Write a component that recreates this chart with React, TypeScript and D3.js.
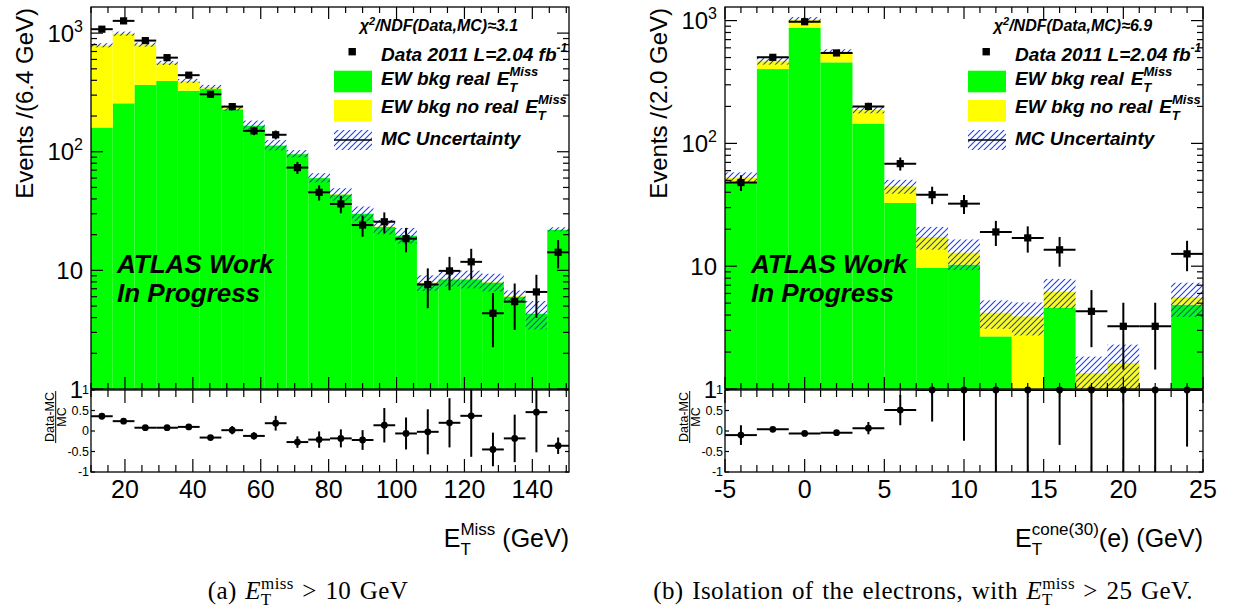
import React from 'react';
import * as d3 from 'd3';

const SANS = "'Liberation Sans', Arial, Helvetica, sans-serif";
const SERIF = "'Liberation Serif', 'Times New Roman', serif";

// ---------- (a) E_T^miss ----------
const metEdges = [10, 16.4, 22.8, 29.2, 35.6, 42, 48.4, 54.8, 61.2, 67.6, 74, 80.4, 86.8, 93.2, 99.6, 106, 112.4, 118.8, 125.2, 131.6, 138, 144.4, 150.8];
const metGreen = [160, 256, 366, 395, 327, 340, 228, 166, 113, 95.5, 60, 43.6, 30, 23.2, 19.6, 7.8, 8.4, 8.4, 7.9, 6.0, 4.3, 22];
const metYellow = [630, 734, 434, 166, 68, 12, 5, 2, 1, 1, 0.5, 0.4, 0.3, 0.2, 0.2, 0.1, 0.1, 0.1, 0.1, 0.1, 0.05, 0.2];
const metUnc = [0.04, 0.04, 0.04, 0.04, 0.04, 0.04, 0.05, 0.09, 0.1, 0.07, 0.09, 0.12, 0.14, 0.14, 0.15, 0.15, 0.14, 0.17, 0.17, 0.11, 0.27, 0.04];
const metData = [1079, 1268, 865, 621, 442, 305, 240, 150, 139, 73.5, 45.5, 36.3, 24.1, 25.7, 18.5, 7.6, 9.9, 11.8, 4.35, 5.45, 6.58, 14.2];
const metDataErr = [33, 36, 29, 25, 21, 17, 15, 12, 12, 8.6, 6.7, 6.0, 4.9, 5.1, 4.3, 2.8, 3.1, 3.4, 2.1, 2.3, 2.6, 3.8];
const metRatio = [0.36, 0.24, 0.08, 0.08, 0.1, -0.16, 0.02, -0.12, 0.19, -0.27, -0.21, -0.18, -0.22, 0.14, -0.06, -0.02, 0.2, 0.37, -0.45, -0.18, 0.46, -0.36];
const metRatioErr = [0.04, 0.04, 0.04, 0.04, 0.05, 0.06, 0.1, 0.09, 0.18, 0.14, 0.2, 0.22, 0.24, 0.42, 0.39, 0.55, 0.6, 1.0, 0.41, 0.58, 0.98, 0.2];
const metXTicks = [20, 40, 60, 80, 100, 120, 140];

// ---------- (b) electron isolation ----------
const isoEdges = [-5, -3, -1, 1, 3, 5, 7, 9, 11, 13, 15, 17, 19, 21, 23, 25];
const isoGreen = [48, 403, 871, 457, 145, 32.7, 9.67, 10.3, 2.68, 0, 4.57, 0, 0, 0, 4.86];
const isoYellow = [4.8, 68, 146, 104, 42, 12, 7.6, 2.6, 1.5, 3.9, 1.63, 1.35, 1.63, 0, 0.74];
const isoUnc = [0.1, 0.07, 0.05, 0.04, 0.06, 0.13, 0.21, 0.28, 0.26, 0.3, 0.27, 0.36, 0.41, 0, 0.31];
const isoData = [48, 502, 979, 545, 200, 68.4, 38.2, 32.3, 19, 17, 13.6, 4.29, 3.24, 3.24, 12.6];
const isoDataErr = [7, 22, 31, 23, 14, 8.3, 6.2, 5.7, 4.4, 4.1, 3.7, 2.1, 1.8, 1.8, 3.5];
const isoRatio = [-0.1, 0.04, -0.06, -0.04, 0.07, 0.51, 1, 1, 1, 1, 1, 1, 1, 1, 1];
const isoRatioErr = [0.24, 0.05, 0.04, 0.05, 0.15, 0.37, 0.77, 1.24, 2.5, 2.5, 1.34, 2.5, 2.5, 2.5, 1.38];
const isoXTicks = [-5, 0, 5, 10, 15, 20, 25];

const yDecades = [1, 10, 100, 1000];

const MAIN_TOP = 7;
const MAIN_BOT = 389;
const RAT_TOP = 390;
const RAT_BOT = 472;
const ratioTicks = [-1, -0.5, 0, 0.5, 1];

type PanelProps = {
  id: string;
  x0: number;
  x1: number;
  xDomain: [number, number];
  xMajor: number[];
  minorStep: number;
  yMax: number;
  edges: number[];
  green: number[];
  yellow: number[];
  unc: number[];
  data: number[];
  dataErr: number[];
  ratio: number[];
  ratioErr: number[];
  yTitle: string;
  chi2: string;
  xTitleSup: string;
  xTitleTail: string;
  supW: number;
};

function Panel(p: PanelProps) {
  const x = d3.scaleLinear().domain(p.xDomain).range([p.x0, p.x1]);
  const y = d3.scaleLog().domain([1, p.yMax]).range([MAIN_BOT, MAIN_TOP]);
  const yv = (v: number) => (v <= 1 ? MAIN_BOT : Math.max(MAIN_TOP - 2, y(v)));
  const yr = d3.scaleLinear().domain([-1, 1]).range([RAT_BOT, RAT_TOP]);

  const bins = p.green.map((g, i) => ({
    lo: p.edges[i],
    hi: p.edges[i + 1],
    g,
    tot: g + p.yellow[i],
    u: p.unc[i],
    d: p.data[i],
    de: p.dataErr[i],
    r: p.ratio[i],
    re: p.ratioErr[i],
  }));

  const eps = 1e-6;
  const minorX = d3
    .range(Math.ceil(p.xDomain[0] / p.minorStep) * p.minorStep, p.xDomain[1] + eps, p.minorStep)
    .filter((v) => !p.xMajor.some((m) => Math.abs(m - v) < eps));
  const minorY: number[] = [];
  yDecades.forEach((d) => {
    for (let k = 2; k <= 9; k++) if (k * d < p.yMax) minorY.push(k * d);
  });

  const w = p.x1 - p.x0;
  const L = p.x0;
  const stroke = '#000';

  return (
    <g>
      <defs>
        <clipPath id={`main-${p.id}`}>
          <rect x={p.x0} y={MAIN_TOP} width={w} height={MAIN_BOT - MAIN_TOP} />
        </clipPath>
        <clipPath id={`rat-${p.id}`}>
          <rect x={p.x0} y={RAT_TOP} width={w} height={RAT_BOT - RAT_TOP} />
        </clipPath>
      </defs>

      {/* stacked MC */}
      <g clipPath={`url(#main-${p.id})`}>
        {bins.map((b, i) =>
          b.g > 1 ? (
            <rect key={'g' + i} x={x(b.lo)} width={x(b.hi) - x(b.lo)} y={yv(b.g)} height={MAIN_BOT - yv(b.g)} fill="#00ff00" />
          ) : null
        )}
        {bins.map((b, i) =>
          b.tot > 1 ? (
            <rect key={'y' + i} x={x(b.lo)} width={x(b.hi) - x(b.lo)} y={yv(b.tot)} height={yv(b.g) - yv(b.tot)} fill="#ffff00" />
          ) : null
        )}
        {bins.map((b, i) =>
          b.tot > 0 && b.u > 0 ? (
            <rect
              key={'h' + i}
              x={x(b.lo)}
              width={x(b.hi) - x(b.lo)}
              y={yv(b.tot * (1 + b.u))}
              height={yv(b.tot * (1 - b.u)) - yv(b.tot * (1 + b.u))}
              fill="url(#hatch)"
            />
          ) : null
        )}
        {/* data */}
        {bins.map((b, i) => {
          const cx = x((b.lo + b.hi) / 2);
          const cy = y(b.d);
          return (
            <g key={'d' + i}>
              <line x1={x(b.lo)} x2={x(b.hi)} y1={cy} y2={cy} stroke={stroke} strokeWidth={2} />
              <line x1={cx} x2={cx} y1={yv(b.d + b.de)} y2={yv(b.d - b.de)} stroke={stroke} strokeWidth={2} />
              <rect x={cx - 3.6} y={cy - 3.6} width={7.2} height={7.2} fill="#000" />
            </g>
          );
        })}
      </g>

      {/* main frame */}
      <rect x={p.x0} y={MAIN_TOP} width={w} height={MAIN_BOT - MAIN_TOP} fill="none" stroke={stroke} strokeWidth={1.3} />
      {p.xMajor.map((v) => (
        <g key={'mxM' + v}>
          <line x1={x(v)} x2={x(v)} y1={MAIN_TOP} y2={MAIN_TOP + 12} stroke={stroke} strokeWidth={1.2} />
          <line x1={x(v)} x2={x(v)} y1={MAIN_BOT} y2={MAIN_BOT - 12} stroke={stroke} strokeWidth={1.2} />
        </g>
      ))}
      {minorX.map((v) => (
        <g key={'mxm' + v}>
          <line x1={x(v)} x2={x(v)} y1={MAIN_TOP} y2={MAIN_TOP + 6} stroke={stroke} strokeWidth={1.2} />
          <line x1={x(v)} x2={x(v)} y1={MAIN_BOT} y2={MAIN_BOT - 6} stroke={stroke} strokeWidth={1.2} />
        </g>
      ))}
      {yDecades.map((v) => (
        <g key={'myM' + v}>
          <line x1={p.x0} x2={p.x0 + 12} y1={y(v)} y2={y(v)} stroke={stroke} strokeWidth={1.2} />
          <line x1={p.x1} x2={p.x1 - 12} y1={y(v)} y2={y(v)} stroke={stroke} strokeWidth={1.2} />
        </g>
      ))}
      {minorY.map((v) => (
        <g key={'mym' + v}>
          <line x1={p.x0} x2={p.x0 + 6} y1={y(v)} y2={y(v)} stroke={stroke} strokeWidth={1.2} />
          <line x1={p.x1} x2={p.x1 - 6} y1={y(v)} y2={y(v)} stroke={stroke} strokeWidth={1.2} />
        </g>
      ))}
      {yDecades.map((v, i) => (
        <text key={'myl' + v} x={p.x0 - 8} y={y(v) + 8.5} textAnchor="end" fontSize={24} fontFamily={SANS}>
          {i === 0 ? '1' : '10'}
          {i >= 2 ? (
            <tspan dy={-10} fontSize={16}>
              {String(i)}
            </tspan>
          ) : null}
        </text>
      ))}
      <text
        transform={`translate(${p.x0 - 58}, ${MAIN_TOP + 1}) rotate(-90)`}
        textAnchor="end"
        fontSize={24}
        fontFamily={SANS}
      >
        {p.yTitle}
      </text>

      {/* ATLAS label */}
      <text x={L + 26} y={273.3} fontSize={26} fontWeight="bold" fontStyle="italic" fontFamily={SANS}>
        ATLAS Work
      </text>
      <text x={L + 26} y={301.6} fontSize={26} fontWeight="bold" fontStyle="italic" fontFamily={SANS}>
        In Progress
      </text>

      {/* legend */}
      <text x={L + 348} y={31} textAnchor="middle" fontSize={16} fontWeight="bold" fontStyle="italic" fontFamily={SANS}>
        χ<tspan dy={-6} fontSize={11}>2</tspan>
        <tspan dy={6}>{p.chi2}</tspan>
      </text>
      <rect x={L + 257.5} y={48} width={7.4} height={7.4} fill="#000" />
      <text x={L + 290} y={61} fontSize={19} fontWeight="bold" fontStyle="italic" fontFamily={SANS}>
        Data 2011 L=2.04 fb<tspan dy={-9} fontSize={12}>-1</tspan>
      </text>
      <rect x={L + 243} y={70.7} width={38} height={21.6} fill="#00ff00" />
      <text x={L + 290} y={85} fontSize={19} fontWeight="bold" fontStyle="italic" fontFamily={SANS}>
        EW bkg real
        <tspan dx={7}>E</tspan>
        <tspan dy={-9} fontSize={13}>Miss</tspan>
        <tspan dx={-29} dy={16} fontSize={13}>T</tspan>
      </text>
      <rect x={L + 243} y={100} width={38} height={21.6} fill="#ffff00" />
      <text x={L + 290} y={113} fontSize={19} fontWeight="bold" fontStyle="italic" fontFamily={SANS}>
        EW bkg no real
        <tspan dx={7}>E</tspan>
        <tspan dy={-9} fontSize={13}>Miss</tspan>
        <tspan dx={-29} dy={16} fontSize={13}>T</tspan>
      </text>
      <rect x={L + 243} y={130} width={38} height={20} fill="url(#hatch)" />
      <line x1={L + 243} x2={L + 281} y1={140} y2={140} stroke="#000" strokeWidth={1.6} />
      <text x={L + 290} y={145} fontSize={19} fontWeight="bold" fontStyle="italic" fontFamily={SANS}>
        MC Uncertainty
      </text>

      {/* ratio pad */}
      <g clipPath={`url(#rat-${p.id})`}>
        {bins.map((b, i) => {
          const cx = x((b.lo + b.hi) / 2);
          const cy = yr(b.r);
          return (
            <g key={'r' + i}>
              <line x1={x(b.lo)} x2={x(b.hi)} y1={cy} y2={cy} stroke={stroke} strokeWidth={2} />
              <line x1={cx} x2={cx} y1={yr(b.r + b.re)} y2={yr(b.r - b.re)} stroke={stroke} strokeWidth={2} />
            </g>
          );
        })}
      </g>
      <rect x={p.x0} y={RAT_TOP} width={w} height={RAT_BOT - RAT_TOP} fill="none" stroke={stroke} strokeWidth={1.3} />
      {bins.map((b, i) => (
        <circle key={'rc' + i} cx={x((b.lo + b.hi) / 2)} cy={yr(Math.min(1, Math.max(-1, b.r)))} r={3.4} fill="#000" />
      ))}
      {p.xMajor.map((v) => (
        <g key={'rxM' + v}>
          <line x1={x(v)} x2={x(v)} y1={RAT_TOP} y2={RAT_TOP + 13} stroke={stroke} strokeWidth={1.2} />
          <line x1={x(v)} x2={x(v)} y1={RAT_BOT} y2={RAT_BOT - 13} stroke={stroke} strokeWidth={1.2} />
          <text x={x(v)} y={498.3} textAnchor="middle" fontSize={25} fontFamily={SANS}>
            {String(v)}
          </text>
        </g>
      ))}
      {minorX.map((v) => (
        <g key={'rxm' + v}>
          <line x1={x(v)} x2={x(v)} y1={RAT_TOP} y2={RAT_TOP + 7} stroke={stroke} strokeWidth={1.2} />
          <line x1={x(v)} x2={x(v)} y1={RAT_BOT} y2={RAT_BOT - 7} stroke={stroke} strokeWidth={1.2} />
        </g>
      ))}
      {ratioTicks.map((v) => (
        <g key={'ry' + v}>
          <line x1={p.x0} x2={p.x0 + 4} y1={yr(v)} y2={yr(v)} stroke={stroke} strokeWidth={1.2} />
          <line x1={p.x1} x2={p.x1 - 4} y1={yr(v)} y2={yr(v)} stroke={stroke} strokeWidth={1.2} />
          <text x={p.x0 - 2} y={yr(v) + 4.3} textAnchor="end" fontSize={12.5} fontFamily={SANS}>
            {String(v)}
          </text>
        </g>
      ))}
      <text transform={`translate(${p.x0 - 37}, 417) rotate(-90)`} textAnchor="middle" fontSize={12.5} fontFamily={SANS}>
        Data-MC
      </text>
      <line x1={p.x0 - 35.3} x2={p.x0 - 35.3} y1={391} y2={443} stroke="#000" strokeWidth={1} />
      <text transform={`translate(${p.x0 - 25.5}, 417) rotate(-90)`} textAnchor="middle" fontSize={12.5} fontFamily={SANS}>
        MC
      </text>

      {/* x title */}
      <text x={p.x1} y={547} textAnchor="end" fontSize={25} fontFamily={SANS}>
        E
        <tspan dy={-12} fontSize={17}>
          {p.xTitleSup}
        </tspan>
        <tspan dx={-p.supW} dy={20} fontSize={17}>
          T
        </tspan>
        <tspan dx={p.supW - 10.4} dy={-8}>
          {p.xTitleTail}
        </tspan>
      </text>
    </g>
  );
}

export default function App() {
  return (
    <svg
      width={1236}
      height={612}
      viewBox="0 0 1236 612"
      style={{ position: 'absolute', left: 0, top: 0, background: '#fff' }}
    >
      <defs>
        <pattern id="hatch" width={6} height={6} patternUnits="userSpaceOnUse">
          <path d="M0,6 L6,0 M-1,1 L1,-1 M5,7 L7,5" stroke="#1a3cff" strokeWidth={1.1} />
        </pattern>
      </defs>
      <rect x={0} y={0} width={1236} height={612} fill="#fff" />
      <Panel
        id="a"
        x0={91}
        x1={569}
        xDomain={[10, 150.8]}
        xMajor={metXTicks}
        minorStep={5}
        yMax={1660}
        edges={metEdges}
        green={metGreen}
        yellow={metYellow}
        unc={metUnc}
        data={metData}
        dataErr={metDataErr}
        ratio={metRatio}
        ratioErr={metRatioErr}
        yTitle="Events /(6.4 GeV)"
        chi2="/NDF(Data,MC)≈3.1"
        xTitleSup="Miss"
        xTitleTail=" (GeV)"
        supW={34.9}
      />
      <Panel
        id="b"
        x0={725}
        x1={1203}
        xDomain={[-5, 25]}
        xMajor={isoXTicks}
        minorStep={1}
        yMax={1290}
        edges={isoEdges}
        green={isoGreen}
        yellow={isoYellow}
        unc={isoUnc}
        data={isoData}
        dataErr={isoDataErr}
        ratio={isoRatio}
        ratioErr={isoRatioErr}
        yTitle="Events /(2.0 GeV)"
        chi2="/NDF(Data,MC)≈6.9"
        xTitleSup="cone(30)"
        xTitleTail="(e) (GeV)"
        supW={67.1}
      />
      {/* captions */}
      <text x={308} y={599} textAnchor="middle" fontSize={25} fontFamily={SERIF} letterSpacing={0.4} wordSpacing={2}>
        (a) <tspan fontStyle="italic">E</tspan>
        <tspan dy={-10} fontSize={17}>miss</tspan>
        <tspan dx={-33} dy={16} fontSize={17}>T</tspan>
        <tspan dx={22} dy={-6}> &gt; 10  GeV</tspan>
      </text>
      <text x={923} y={599} textAnchor="middle" fontSize={25} fontFamily={SERIF} letterSpacing={0.4} wordSpacing={2}>
        (b) Isolation of the electrons, with <tspan fontStyle="italic">E</tspan>
        <tspan dy={-10} fontSize={17}>miss</tspan>
        <tspan dx={-33} dy={16} fontSize={17}>T</tspan>
        <tspan dx={22} dy={-6}> &gt; 25  GeV.</tspan>
      </text>
    </svg>
  );
}
